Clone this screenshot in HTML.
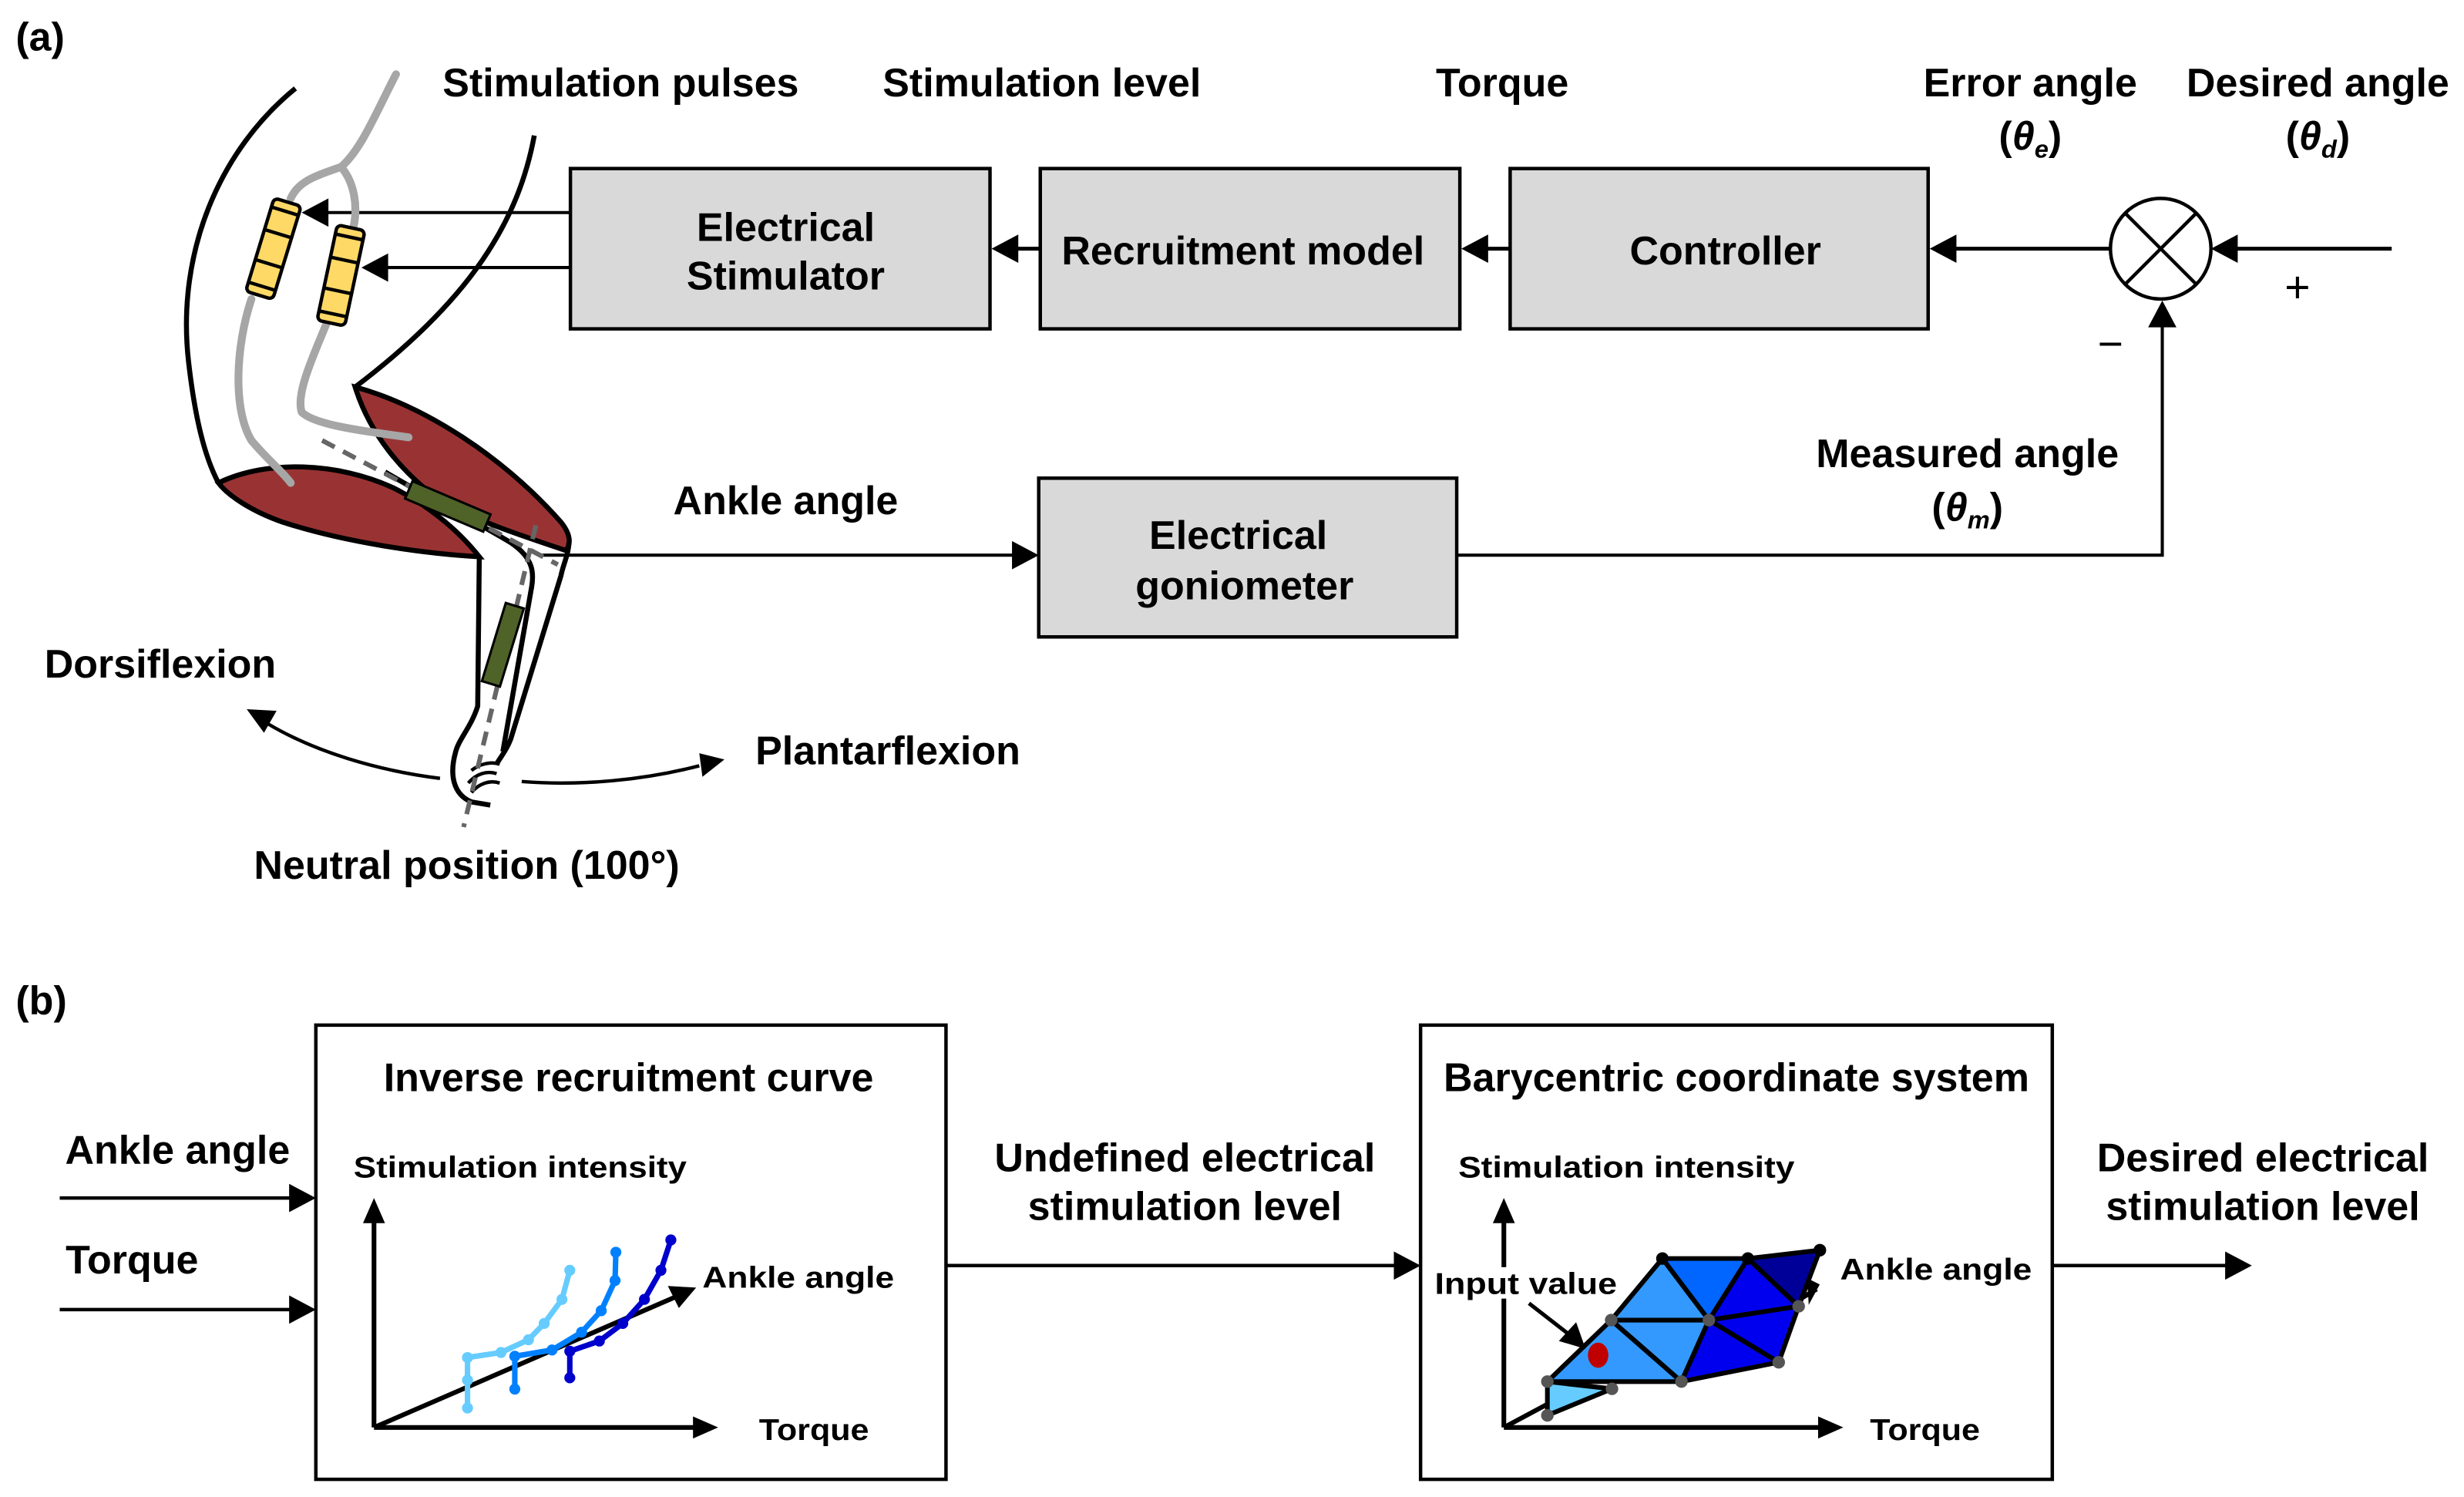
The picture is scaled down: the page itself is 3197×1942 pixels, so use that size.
<!DOCTYPE html>
<html><head><meta charset="utf-8"><style>
html,body{margin:0;padding:0;background:#fff}
svg{display:block}
text{font-family:"Liberation Sans",Arial,sans-serif;font-weight:bold;fill:#000}
</style></head><body>
<svg xmlns="http://www.w3.org/2000/svg" width="3197" height="1942" viewBox="0 0 1568 952">
<style>
.ln{stroke:#000;fill:none}
.bx{fill:#d9d9d9;stroke:#000;stroke-width:2.2}
.t{font-size:25.5px}
.s{font-size:19px}
</style>
<rect width="1568" height="952" fill="#fff"/>

<!-- (a) -->
<text x="10" y="32" class="t">(a)</text>
<text x="395" y="61" class="t" text-anchor="middle">Stimulation pulses</text>
<text x="663" y="61" class="t" text-anchor="middle">Stimulation level</text>
<text x="956" y="61" class="t" text-anchor="middle">Torque</text>
<text x="1292" y="61" class="t" text-anchor="middle">Error angle</text>
<text x="1475" y="61" class="t" text-anchor="middle">Desired angle</text>
<text x="1292" y="95" class="t" text-anchor="middle">(<tspan font-style="italic">θ</tspan><tspan font-size="16" font-style="italic" dy="5">e</tspan><tspan dy="-5">)</tspan></text>
<text x="1475" y="95" class="t" text-anchor="middle">(<tspan font-style="italic">θ</tspan><tspan font-size="16" font-style="italic" dy="5">d</tspan><tspan dy="-5">)</tspan></text>

<rect x="363" y="107" width="267" height="102" class="bx"/>
<text x="500" y="153" class="t" text-anchor="middle">Electrical</text>
<text x="500" y="184" class="t" text-anchor="middle">Stimulator</text>
<rect x="662" y="107" width="267" height="102" class="bx"/>
<text x="791" y="168" class="t" text-anchor="middle">Recruitment model</text>
<rect x="961" y="107" width="266" height="102" class="bx"/>
<text x="1098" y="168" class="t" text-anchor="middle">Controller</text>

<!-- summing -->
<circle cx="1375" cy="158" r="32" fill="#fff" stroke="#000" stroke-width="2.2"/>
<line x1="1352" y1="135" x2="1398" y2="181" class="ln" style="stroke-width:2.2"/>
<line x1="1398" y1="135" x2="1352" y2="181" class="ln" style="stroke-width:2.2"/>
<line x1="1522" y1="158" x2="1420" y2="158" class="ln" style="stroke-width:2.5"/>
<polygon points="1407,158 1424,149 1424,167"/>
<text x="1462" y="192" font-size="28" style="font-weight:normal" text-anchor="middle">+</text>
<text x="1343" y="228" font-size="28" style="font-weight:normal" text-anchor="middle">−</text>
<line x1="1343" y1="158" x2="1240" y2="158" class="ln" style="stroke-width:2.5"/>
<polygon points="1228,158 1245,149 1245,167"/>
<line x1="961" y1="158" x2="942" y2="158" class="ln" style="stroke-width:2.5"/>
<polygon points="930,158 947,149 947,167"/>
<line x1="662" y1="158" x2="643" y2="158" class="ln" style="stroke-width:2.5"/>
<polygon points="631,158 648,149 648,167"/>
<!-- to electrodes -->
<line x1="363" y1="135" x2="205" y2="135" class="ln" style="stroke-width:2"/>
<polygon points="192,135 209,126 209,144"/>
<line x1="363" y1="170" x2="243" y2="170" class="ln" style="stroke-width:2"/>
<polygon points="230,170 247,161 247,179"/>

<!-- goniometer -->
<rect x="661" y="304" width="266" height="101" class="bx"/>
<text x="788" y="349" class="t" text-anchor="middle">Electrical</text>
<text x="792" y="381" class="t" text-anchor="middle">goniometer</text>
<line x1="345" y1="353" x2="648" y2="353" class="ln" style="stroke-width:2"/>
<polygon points="661,353 644,344 644,362"/>
<text x="500" y="327" class="t" text-anchor="middle">Ankle angle</text>
<polyline points="927,353 1376,353 1376,205" class="ln" style="stroke-width:2"/>
<polygon points="1376,191 1367,208 1385,208"/>
<text x="1252" y="297" class="t" text-anchor="middle">Measured angle</text>
<text x="1252" y="331" class="t" text-anchor="middle">(<tspan font-style="italic">θ</tspan><tspan font-size="16" font-style="italic" dy="5">m</tspan><tspan dy="-5">)</tspan></text>

<!-- Leg drawing -->
<g style="stroke:#000;stroke-width:3.2;fill:none" stroke-linejoin="round">
<path d="M188,56 C140,95 112,160 120,230 C124,265 130,290 139,307"/>
<path d="M340,86 C330,140 300,190 226,246"/>
</g>
<path d="M139,307 C170,292 215,294 250,310 C270,320 290,335 305,354 C270,352 220,345 180,332 C160,325 145,315 139,307 Z" fill="#993333" style="stroke:#000;stroke-width:3.2"/>
<path d="M226,246 C270,258 320,290 357,332 C365,342 362,348 360,350 C330,340 300,330 280,318 C255,300 235,275 226,246 Z" fill="#993333" style="stroke:#000;stroke-width:3.2"/>
<g style="stroke:#000;stroke-width:3.2;fill:none" stroke-linejoin="round">
<path d="M245,300 C270,315 300,330 325,345 C340,355 340,365 338,375 L320,478"/>
<path d="M305,354 L304,449 C300,462 292,470 290,478 C286,492 288,505 300,510 L312,512"/>
<path d="M362,345 C362,352 358,360 357,366 L325,470 C322,478 318,482 316,486"/>
<path style="stroke-width:2.2" d="M300,490 C305,486 312,484 318,486 M298,498 C303,492 310,490 316,492 M300,504 C305,498 312,496 318,498"/>
</g>
<path d="M205,280 L355,359" style="stroke:#666;stroke-width:3;fill:none" stroke-dasharray="9,6"/>
<path d="M341,334 L295,526" style="stroke:#666;stroke-width:3;fill:none" stroke-dasharray="9,6"/>
<path d="M252,47 C240,70 230,95 217,106 C200,112 190,115 185,126 M217,106 C225,115 228,130 225,144" stroke="#a6a6a6" stroke-width="5" fill="none" stroke-linecap="round"/>
<path d="M160,190 C150,220 148,260 160,280 C170,292 180,300 185,307" stroke="#a6a6a6" stroke-width="5" fill="none" stroke-linecap="round"/>
<path d="M208,205 C200,225 188,250 192,262 C200,270 230,274 260,278" stroke="#a6a6a6" stroke-width="5" fill="none" stroke-linecap="round"/>
<g transform="translate(174,158) rotate(17)" style="stroke:#000;stroke-width:2.2">
<rect x="-9" y="-31" width="18" height="62" rx="3" fill="#ffd966"/>
<line x1="-9" y1="-10" x2="9" y2="-10"/><line x1="-9" y1="10" x2="9" y2="10"/><line x1="-9" y1="-25" x2="9" y2="-25"/><line x1="-9" y1="25" x2="9" y2="25"/>
</g>
<g transform="translate(217,175) rotate(12)" style="stroke:#000;stroke-width:2.2">
<rect x="-9" y="-31" width="18" height="62" rx="3" fill="#ffd966"/>
<line x1="-9" y1="-10" x2="9" y2="-10"/><line x1="-9" y1="10" x2="9" y2="10"/><line x1="-9" y1="-25" x2="9" y2="-25"/><line x1="-9" y1="25" x2="9" y2="25"/>
</g>
<rect x="-27" y="-6" width="54" height="12" fill="#4f6228" stroke="#000" stroke-width="1.5" transform="translate(285,322) rotate(23)"/>
<rect x="-6" y="-26" width="12" height="52" fill="#4f6228" stroke="#000" stroke-width="1.5" transform="translate(320,410) rotate(17)"/>
<path d="M280,495 C240,490 200,478 170,460" class="ln" style="stroke-width:2.2"/>
<polygon points="157,451 176,452 168,466"/>
<path d="M332,497 C370,500 410,496 445,487" class="ln" style="stroke-width:2.2"/>
<polygon points="461,483 445,479 447,494"/>
<text x="102" y="431" class="t" text-anchor="middle">Dorsiflexion</text>
<text x="565" y="486" class="t" text-anchor="middle">Plantarflexion</text>
<text x="297" y="559" class="t" text-anchor="middle">Neutral position (100°)</text>

<!-- (b) -->
<text x="10" y="645" class="t">(b)</text>
<rect x="201" y="652" width="401" height="289" fill="#fff" stroke="#000" stroke-width="2.2"/>
<text x="400" y="694" class="t" text-anchor="middle">Inverse recruitment curve</text>
<text x="331" y="749" class="s" text-anchor="middle" textLength="212" lengthAdjust="spacingAndGlyphs">Stimulation intensity</text>
<line x1="238" y1="908" x2="238" y2="775" class="ln" style="stroke-width:3"/>
<polygon points="238,762 231,778 245,778"/>
<line x1="238" y1="908" x2="444" y2="908" class="ln" style="stroke-width:3"/>
<polygon points="457,908 441,901 441,915"/>
<line x1="238" y1="908" x2="432" y2="824" class="ln" style="stroke-width:3"/>
<polygon points="443,819 425,818 432,832"/>
<text x="508" y="819" class="s" text-anchor="middle" textLength="122" lengthAdjust="spacingAndGlyphs">Ankle angle</text>
<text x="518" y="916" class="s" text-anchor="middle" textLength="70" lengthAdjust="spacingAndGlyphs">Torque</text>
<g fill="none" stroke-width="3.5">
<polyline stroke="#66ccff" points="297.5,895.6 297.5,877.9 297.5,863.5 318.8,860.3 336.3,852.2 346.3,841.8 357.6,826.5 362.6,808"/>
<polyline stroke="#0080ff" points="327.6,883.6 327.6,862.7 351.3,858.7 370.1,847.4 382.6,833.7 391.4,814.5 391.9,796.5"/>
<polyline stroke="#0000cc" points="362.6,876.4 362.6,859.5 381.4,853 396.3,841.8 410.1,826.5 420.6,808 426.9,788.7"/>
</g>
<g fill="#66ccff"><circle cx="297.5" cy="895.6" r="3.5"/><circle cx="297.5" cy="877.9" r="3.5"/><circle cx="297.5" cy="863.5" r="3.5"/><circle cx="318.8" cy="860.3" r="3.5"/><circle cx="336.3" cy="852.2" r="3.5"/><circle cx="346.3" cy="841.8" r="3.5"/><circle cx="357.6" cy="826.5" r="3.5"/><circle cx="362.6" cy="808" r="3.5"/></g>
<g fill="#0080ff"><circle cx="327.6" cy="883.6" r="3.5"/><circle cx="327.6" cy="862.7" r="3.5"/><circle cx="351.3" cy="858.7" r="3.5"/><circle cx="370.1" cy="847.4" r="3.5"/><circle cx="382.6" cy="833.7" r="3.5"/><circle cx="391.4" cy="814.5" r="3.5"/><circle cx="391.9" cy="796.5" r="3.5"/></g>
<g fill="#0000cc"><circle cx="362.6" cy="876.4" r="3.5"/><circle cx="362.6" cy="859.5" r="3.5"/><circle cx="381.4" cy="853" r="3.5"/><circle cx="396.3" cy="841.8" r="3.5"/><circle cx="410.1" cy="826.5" r="3.5"/><circle cx="420.6" cy="808" r="3.5"/><circle cx="426.9" cy="788.7" r="3.5"/></g>

<text x="113" y="740" class="t" text-anchor="middle">Ankle angle</text>
<line x1="38" y1="762" x2="188" y2="762" class="ln" style="stroke-width:2.2"/>
<polygon points="201,762 184,753 184,771"/>
<text x="84" y="810" class="t" text-anchor="middle">Torque</text>
<line x1="38" y1="833" x2="188" y2="833" class="ln" style="stroke-width:2.2"/>
<polygon points="201,833 184,824 184,842"/>

<line x1="602" y1="805" x2="890" y2="805" class="ln" style="stroke-width:2.2"/>
<polygon points="904,805 887,796 887,814"/>
<text x="754" y="745" class="t" text-anchor="middle">Undefined electrical</text>
<text x="754" y="776" class="t" text-anchor="middle">stimulation level</text>

<rect x="904" y="652" width="402" height="289" fill="#fff" stroke="#000" stroke-width="2.2"/>
<text x="1105" y="694" class="t" text-anchor="middle">Barycentric coordinate system</text>
<text x="1035" y="749" class="s" text-anchor="middle" textLength="214" lengthAdjust="spacingAndGlyphs">Stimulation intensity</text>
<line x1="957" y1="908" x2="957" y2="775" class="ln" style="stroke-width:3"/>
<polygon points="957,762 950,778 964,778"/>
<line x1="957" y1="908" x2="1160" y2="908" class="ln" style="stroke-width:3"/>
<polygon points="1173,908 1157,901 1157,915"/>
<line x1="957" y1="908" x2="1000" y2="885" class="ln" style="stroke-width:3"/>
<g style="stroke:#000;stroke-width:3" stroke-linejoin="round">
<polygon fill="#66ccff" points="984.7,900.3 984.7,878.8 1025.8,883.4"/>
<polygon fill="#3399ff" points="984.7,878.8 1025.3,839.7 1070,878.8"/>
<polygon fill="#3399ff" points="1025.3,839.7 1057.9,800.5 1087.5,839.7"/>
<polygon fill="#3399ff" points="1025.3,839.7 1087.5,839.7 1070,878.8"/>
<polygon fill="#0066ff" points="1057.9,800.5 1112.3,800.5 1087.5,839.7"/>
<polygon fill="#0000ee" points="1112.3,800.5 1144.6,830.9 1087.5,839.7"/>
<polygon fill="#0000ee" points="1087.5,839.7 1144.6,830.9 1131.9,866.5"/>
<polygon fill="#0000ee" points="1087.5,839.7 1131.9,866.5 1070,878.8"/>
<polygon fill="#000099" points="1112.3,800.5 1158.1,795.2 1144.6,830.9"/>
</g>
<line x1="1146" y1="826" x2="1156" y2="820" class="ln" style="stroke-width:3"/>
<polygon points="1158,817 1150,813 1151,830"/>
<g fill="#555"><circle cx="984.7" cy="900.3" r="4"/><circle cx="984.7" cy="878.8" r="4"/><circle cx="1025.8" cy="883.4" r="4"/><circle cx="1025.3" cy="839.7" r="4"/><circle cx="1070" cy="878.8" r="4"/><circle cx="1087.5" cy="839.7" r="4"/><circle cx="1144.6" cy="830.9" r="4"/><circle cx="1131.9" cy="866.5" r="4"/></g>
<g fill="#000"><circle cx="1057.9" cy="800.5" r="4"/><circle cx="1112.3" cy="800.5" r="4"/><circle cx="1158.1" cy="795.2" r="4"/></g>
<ellipse cx="1017" cy="862" rx="6.5" ry="8" fill="#c00000"/>
<line x1="973" y1="829" x2="1000" y2="850" class="ln" style="stroke-width:2.5"/>
<polygon points="1009,858 992,853 1003,841"/>
<rect x="912" y="806" width="120" height="20" fill="#fff"/>
<text x="971" y="823" class="s" text-anchor="middle" textLength="116" lengthAdjust="spacingAndGlyphs">Input value</text>
<text x="1232" y="814" class="s" text-anchor="middle" textLength="122" lengthAdjust="spacingAndGlyphs">Ankle angle</text>
<text x="1225" y="916" class="s" text-anchor="middle" textLength="70" lengthAdjust="spacingAndGlyphs">Torque</text>

<line x1="1306" y1="805" x2="1420" y2="805" class="ln" style="stroke-width:2.2"/>
<polygon points="1433,805 1416,796 1416,814"/>
<text x="1440" y="745" class="t" text-anchor="middle">Desired electrical</text>
<text x="1440" y="776" class="t" text-anchor="middle">stimulation level</text>
</svg>
</body></html>
